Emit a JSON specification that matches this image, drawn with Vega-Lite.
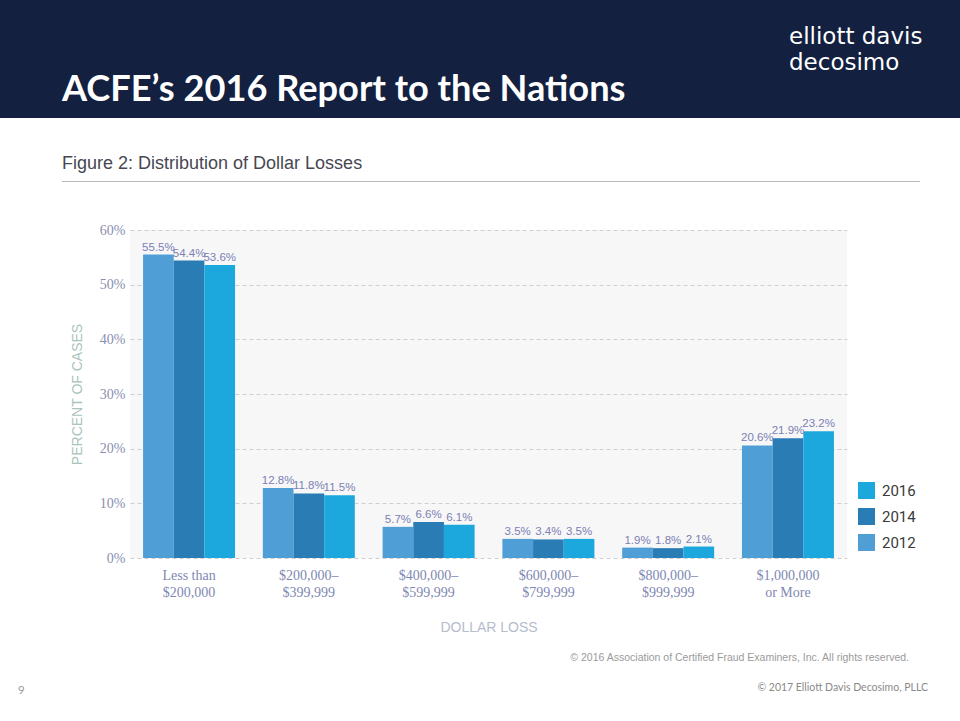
{
  "$schema": "https://vega.github.io/schema/vega-lite/v6.json",
  "background": "#ffffff",
  "padding": 0,
  "spacing": 36,
  "config": {"view": {"stroke": null}, "font": "Liberation Sans"},
  "title": {"text": "© 2017 Elliott Davis Decosimo, PLLC", "orient": "bottom", "anchor": "end", "dx": -32, "offset": -14, "fontSize": 10.5, "font": "Lato", "fontWeight": "normal", "color": "#8a8a8a"},
  "vconcat": [
    {
      "spacing": 0,
      "hconcat": [
        {
          "width": 700, "height": 118,
          "view": {"fill": "#13203f"},
          "data": {"values": [{}]},
          "mark": {"type": "text"},
          "encoding": {},
          "title": {"text": "ACFE’s 2016 Report to the Nations", "orient": "top", "anchor": "start", "dx": 62, "offset": -137, "baseline": "alphabetic", "fontSize": 36.2, "font": "Lato", "fontWeight": "bold", "color": "#ffffff"}
        },
        {
          "width": 260, "height": 118,
          "view": {"fill": "#13203f"},
          "data": {"values": [{}]},
          "mark": {"type": "text"},
          "encoding": {},
          "title": {"text": ["elliott davis", "decosimo"], "orient": "top", "anchor": "start", "dx": 89, "offset": -98, "baseline": "bottom", "lineHeight": 26, "fontSize": 23, "font": "DejaVu Sans", "fontWeight": "normal", "color": "#ffffff"}
        }
      ]
    },
    {
      "spacing": 0,
      "hconcat": [
        {
          "width": 62, "height": 1,
          "data": {"values": [{}]},
          "mark": {"type": "text"},
          "encoding": {}
        },
        {
          "width": 858, "height": 1,
          "view": {"fill": "#b8b8b8"},
          "data": {"values": [{}]},
          "mark": {"type": "text"},
          "encoding": {},
          "title": {"text": "Figure 2: Distribution of Dollar Losses", "anchor": "start", "offset": 3, "fontSize": 18, "font": "Liberation Sans", "fontWeight": "normal", "color": "#474752"}
        }
      ]
    },
    {
      "spacing": 0,
      "hconcat": [
        {
          "width": 70, "height": 328,
          "data": {"values": [{}]},
          "mark": {"type": "text"},
          "encoding": {},
          "title": {"text": "9", "orient": "bottom", "anchor": "start", "dx": 18, "offset": 127, "fontSize": 11.5, "font": "Lato", "fontWeight": "normal", "color": "#999999"}
        },
        {
          "width": 717, "height": 328,
          "view": {"fill": "#f7f7f7"},
          "data": {"values": [
            {"loss": "Less than|$200,000", "year": "2012", "pct": 0.555},
            {"loss": "Less than|$200,000", "year": "2014", "pct": 0.544},
            {"loss": "Less than|$200,000", "year": "2016", "pct": 0.536},
            {"loss": "$200,000–|$399,999", "year": "2012", "pct": 0.128},
            {"loss": "$200,000–|$399,999", "year": "2014", "pct": 0.118},
            {"loss": "$200,000–|$399,999", "year": "2016", "pct": 0.115},
            {"loss": "$400,000–|$599,999", "year": "2012", "pct": 0.057},
            {"loss": "$400,000–|$599,999", "year": "2014", "pct": 0.066},
            {"loss": "$400,000–|$599,999", "year": "2016", "pct": 0.061},
            {"loss": "$600,000–|$799,999", "year": "2012", "pct": 0.035},
            {"loss": "$600,000–|$799,999", "year": "2014", "pct": 0.034},
            {"loss": "$600,000–|$799,999", "year": "2016", "pct": 0.035},
            {"loss": "$800,000–|$999,999", "year": "2012", "pct": 0.019},
            {"loss": "$800,000–|$999,999", "year": "2014", "pct": 0.018},
            {"loss": "$800,000–|$999,999", "year": "2016", "pct": 0.021},
            {"loss": "$1,000,000|or More", "year": "2012", "pct": 0.206},
            {"loss": "$1,000,000|or More", "year": "2014", "pct": 0.219},
            {"loss": "$1,000,000|or More", "year": "2016", "pct": 0.232}
          ]},
          "title": {"text": "© 2016 Association of Certified Fraud Examiners, Inc. All rights reserved.", "orient": "bottom", "anchor": "end", "dx": 62, "offset": 19, "fontSize": 10.5, "font": "Liberation Sans", "fontWeight": "normal", "color": "#9a9a9a"},
          "encoding": {
            "x": {
              "field": "loss", "type": "nominal", "sort": null,
              "scale": {"paddingInner": 0.232, "paddingOuter": 0.109},
              "axis": {
                "title": "DOLLAR LOSS",
                "labelExpr": "split(datum.label, '|')",
                "labelAngle": 0, "domain": false, "ticks": false,
                "labelFont": "Liberation Serif", "labelFontSize": 14, "labelColor": "#8088b3",
                "labelPadding": 10, "labelLineHeight": 17,
                "titleFont": "Liberation Sans", "titleFontSize": 14, "titleFontWeight": "normal",
                "titleColor": "#b5bccb", "titlePadding": 21
              }
            },
            "xOffset": {"field": "year", "type": "nominal", "sort": ["2012", "2014", "2016"], "scale": {"paddingInner": 0}},
            "y": {
              "field": "pct", "type": "quantitative",
              "scale": {"domain": [0, 0.6], "nice": false},
              "axis": {
                "title": "PERCENT OF CASES", "format": ".0%",
                "values": [0, 0.1, 0.2, 0.3, 0.4, 0.5, 0.6],
                "grid": true, "gridDash": [4, 3], "gridColor": "#cfcfcf",
                "domain": false, "ticks": false,
                "labelFont": "Liberation Serif", "labelFontSize": 14, "labelColor": "#8a8fb0", "labelPadding": 5,
                "titleFont": "Liberation Sans", "titleFontSize": 14, "titleFontWeight": "normal",
                "titleColor": "#a9c4bb", "titlePadding": 15
              }
            }
          },
          "layer": [
            {
              "mark": {"type": "bar"},
              "encoding": {
                "color": {
                  "field": "year", "type": "nominal",
                  "scale": {"domain": ["2012", "2014", "2016"], "range": ["#4f9fd6", "#2a7db4", "#1ca8dc"]},
                  "legend": {
                    "title": null, "orient": "none", "legendX": 858, "legendY": 482,
                    "values": ["2016", "2014", "2012"],
                    "symbolType": "square", "symbolSize": 289, "symbolStrokeWidth": 0, "symbolOpacity": 1,
                    "labelFont": "Roboto", "labelFontSize": 15, "labelColor": "#3a3a3a",
                    "rowPadding": 9, "labelOffset": 7
                  }
                }
              }
            },
            {
              "mark": {"type": "text", "baseline": "bottom", "dy": -2, "fontSize": 11.5, "font": "Liberation Sans", "color": "#7b80b6"},
              "encoding": {"text": {"field": "pct", "type": "quantitative", "format": ".1%"}}
            }
          ]
        }
      ]
    }
  ]
}
